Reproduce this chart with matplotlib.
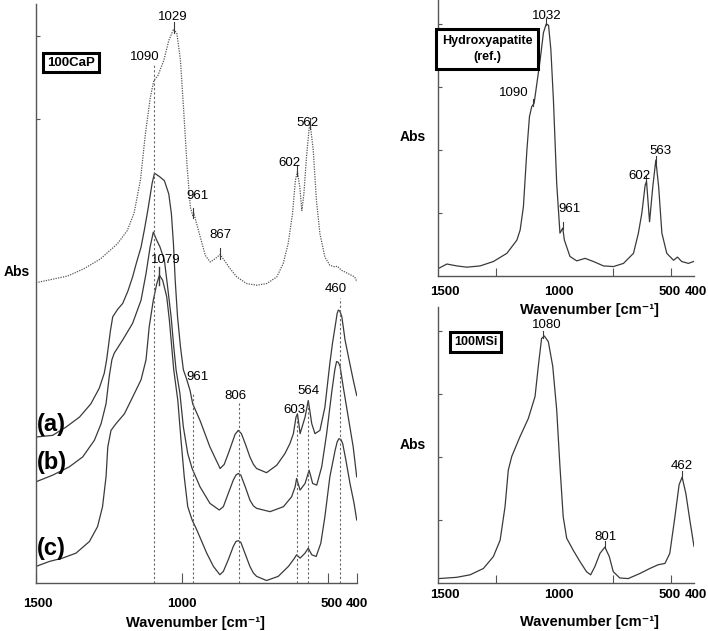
import numpy as np
import matplotlib.pyplot as plt
from matplotlib.transforms import ScaledTranslation

plt.rcParams['font.family'] = ['Liberation Sans', 'DejaVu Sans']

W, H = 708, 631

# --- left panel: 100CaP (dotted) and samples (a), (b), (c) ---
wn_cap = [1500, 1392, 1335, 1278, 1221, 1187, 1164, 1142, 1125, 1108, 1096, 1083, 1062, 1045,
          1028, 1017, 1005, 994, 982, 971, 963, 959, 954, 937, 920, 903, 886, 869, 857, 835,
          812, 778, 744, 709, 675, 653, 636, 621, 611, 604, 596, 589, 582, 573, 564, 560,
          550, 539, 527, 510, 493, 476, 468, 453, 431, 408, 400]
abs_cap = [3.03, 3.11, 3.20, 3.32, 3.50, 3.66, 3.87, 4.27, 4.83, 5.27, 5.47, 5.52, 5.71, 5.95,
           6.09, 6.03, 5.71, 5.11, 4.42, 3.94, 3.84, 3.87, 3.80, 3.58, 3.36, 3.28, 3.32, 3.37, 3.31, 3.20,
           3.10, 3.02, 3.00, 3.02, 3.10, 3.26, 3.50, 3.86, 4.27, 4.37, 4.18, 3.90, 4.10, 4.55, 4.89, 4.93,
           4.63, 4.02, 3.62, 3.34, 3.24, 3.22, 3.23, 3.18, 3.14, 3.10, 3.04]

wn_a = [1500, 1443, 1397, 1351, 1312, 1283, 1266, 1258, 1252, 1245, 1237, 1220, 1203, 1185,
        1169, 1155, 1140, 1128, 1117, 1102, 1094, 1077, 1060, 1045, 1036, 1029, 1023, 1015,
        1005, 995, 985, 972, 963, 938, 904, 869, 855, 840, 830, 818, 807, 796, 782, 767, 755,
        744, 710, 675, 647, 630, 618, 609, 604, 595, 578, 567, 555, 544, 527, 510, 493, 484,
        475, 468, 464, 459, 452, 446, 441, 426, 413, 401]
abs_a = [1.17, 1.19, 1.29, 1.41, 1.57, 1.76, 1.94, 2.10, 2.26, 2.45, 2.62, 2.71, 2.78, 2.93,
         3.10, 3.28, 3.46, 3.68, 3.90, 4.23, 4.35, 4.31, 4.26, 4.10, 3.86, 3.50, 3.06, 2.62,
         2.26, 1.98, 1.88, 1.73, 1.57, 1.37, 1.05, 0.79, 0.84, 0.98, 1.08, 1.20, 1.25, 1.21, 1.08, 0.93, 0.84,
         0.79, 0.74, 0.83, 0.97, 1.09, 1.21, 1.41, 1.45, 1.21, 1.41, 1.61, 1.33, 1.21, 1.25, 1.53, 2.06, 2.30,
         2.50, 2.66, 2.70, 2.69, 2.62, 2.47, 2.34, 2.08, 1.86, 1.67]

wn_b = [1500, 1443, 1386, 1340, 1300, 1277, 1260, 1249, 1240, 1232, 1203, 1169, 1140, 1123,
        1109, 1098, 1086, 1075, 1060, 1049, 1037, 1028, 1020, 1007, 995, 980, 965, 938, 904,
        872, 858, 840, 824, 815, 807, 798, 782, 767, 755, 744, 698, 652, 624, 612, 607, 595,
        578, 564, 552, 538, 521, 504, 487, 476, 470, 464, 458, 447, 430, 413, 401]
abs_b = [0.63, 0.71, 0.81, 0.93, 1.13, 1.33, 1.57, 1.90, 2.10, 2.18, 2.34, 2.54, 2.82, 3.14,
         3.46, 3.64, 3.54, 3.46, 3.30, 2.98, 2.62, 2.26, 1.98, 1.70, 1.29, 0.97, 0.79, 0.57, 0.37,
         0.29, 0.33, 0.50, 0.65, 0.71, 0.73, 0.71, 0.56, 0.41, 0.34, 0.31, 0.27, 0.33, 0.45, 0.57, 0.67, 0.53,
         0.61, 0.77, 0.61, 0.59, 0.81, 1.21, 1.70, 1.98, 2.08, 2.07, 2.02, 1.77, 1.41, 1.05, 0.69]

wn_c = [1500, 1454, 1409, 1363, 1317, 1289, 1272, 1260, 1254, 1243, 1226, 1197, 1169, 1140,
        1123, 1112, 1098, 1086, 1077, 1066, 1052, 1043, 1034, 1028, 1014, 1003, 992, 980, 965,
        949, 915, 892, 870, 858, 840, 824, 815, 807, 798, 782, 767, 755, 744, 710, 670, 635,
        616, 607, 595, 578, 567, 555, 540, 524, 510, 493, 475, 468, 462, 455, 449, 438, 424,
        410, 401]
abs_c = [-0.39, -0.33, -0.29, -0.23, -0.09, 0.09, 0.33, 0.69, 1.05, 1.25, 1.33, 1.45, 1.65, 1.86,
         2.10, 2.50, 2.82, 3.02, 3.12, 3.06, 2.86, 2.58, 2.22, 1.98, 1.61, 1.13, 0.69, 0.33, 0.17,
         0.05, -0.23, -0.39, -0.49, -0.45, -0.30, -0.15, -0.09, -0.08, -0.10, -0.25, -0.39, -0.47, -0.51,
         -0.56, -0.51, -0.39, -0.30, -0.25, -0.29, -0.23, -0.17, -0.25, -0.27, -0.11, 0.21, 0.69, 1.01,
         1.11, 1.15, 1.14, 1.09, 0.89, 0.61, 0.37, 0.17]

# --- right panels ---
wn_hap = [1498, 1462, 1419, 1376, 1319, 1262, 1204, 1161, 1147, 1133, 1118, 1107, 1097, 1087,
          1075, 1061, 1047, 1035, 1025, 1015, 1004, 990, 976, 964, 957, 933, 904, 868, 832, 789,
          746, 703, 660, 639, 624, 610, 604, 591, 577, 564, 552, 538, 517, 488, 471, 453, 424, 402]
abs_hap = [0.12, 0.19, 0.16, 0.14, 0.16, 0.23, 0.36, 0.57, 0.73, 1.10, 2.00, 2.53, 2.69, 2.74,
           3.06, 3.43, 3.86, 4.00, 3.98, 3.59, 2.79, 1.47, 0.68, 0.76, 0.57, 0.31, 0.24, 0.28, 0.23, 0.16,
           0.15, 0.20, 0.36, 0.68, 1.00, 1.44, 1.50, 0.86, 1.42, 1.84, 1.42, 0.68, 0.36, 0.25, 0.30, 0.23,
           0.20, 0.23]

wn_msi = [1498, 1420, 1362, 1305, 1262, 1233, 1212, 1198, 1183, 1148, 1112, 1083, 1069, 1055,
          1043, 1026, 1007, 990, 976, 962, 947, 919, 890, 862, 844, 826, 804, 783, 764, 747,
          719, 683, 633, 590, 554, 525, 504, 482, 464, 451, 435, 418, 400]
abs_msi = [0.07, 0.09, 0.13, 0.23, 0.42, 0.68, 1.21, 1.79, 2.01, 2.32, 2.61, 2.96, 3.44, 3.88,
           3.92, 3.83, 3.44, 2.75, 1.85, 1.05, 0.71, 0.52, 0.34, 0.18, 0.13, 0.26, 0.47, 0.57, 0.42, 0.18,
           0.08, 0.07, 0.15, 0.23, 0.29, 0.31, 0.47, 1.05, 1.56, 1.68, 1.42, 1.00, 0.58]

# peak labels: text, wavenumber of label, absorbance of label
left_labels = [('1029', 1031, 6.23), ('1090', 1126, 5.75), ('961', 948, 4.08), ('867', 869, 3.60),
               ('602', 630, 4.47), ('562', 571, 4.96), ('1079', 1055, 3.30), ('961', 948, 1.89),
               ('806', 818, 1.67), ('603', 616, 1.49), ('564', 568, 1.73), ('460', 472, 2.95)]
hap_labels = [('1032', 1032, 4.13), ('1090', 1173, 2.90), ('961', 933, 1.06),
              ('602', 636, 1.59), ('563', 546, 1.98)]
msi_labels = [('1080', 1032, 4.10), ('801', 782, 0.73), ('462', 452, 1.86)]

# dashed guide lines in the left panel: wavenumber, top of line
guide_wn = [1096, 963, 806, 607, 567, 459]
guide_top = [5.65, 1.70, 1.58, 1.41, 1.61, 2.84]

tick_vals = [1500, 1000, 500, 400]
tick_text = ['1500', '1000', '500', '400']

LINE = '#3a3a3a'
SPINE = '#555555'


def px(x, y):
    return x / W, 1 - y / H


def style(ax, pad):
    for s in ['top', 'right']:
        ax.spines[s].set_visible(False)
    for s in ['left', 'bottom']:
        ax.spines[s].set_color(SPINE)
        ax.spines[s].set_linewidth(1.0)
    ax.tick_params(axis='both', which='both', direction='in', colors=SPINE, labelcolor='black',
                   labelsize=9.5, pad=pad)
    ax.set_yticklabels([])


def fix_ticks(ax, shifts):
    labels = ax.get_xticklabels(which='both')
    for t in labels:
        t.set_fontweight('bold')
    for t in labels:
        dx = shifts.get(t.get_text(), 0)
        if dx:
            t.set_transform(t.get_transform() + ScaledTranslation(dx / 72, 0, fig.dpi_scale_trans))


def mark(ax, w, wn, ab, lo=0.05, hi=0.08, lw=0.8):
    y = np.interp(w, wn[::-1], ab[::-1])
    ax.plot([w, w], [y - lo, y + hi], color=LINE, lw=lw)


def peak_text(ax, labels):
    for t, w, a in labels:
        ax.text(w, a, t, ha='center', va='center', fontsize=9.5)


fig = plt.figure(figsize=(7.08, 6.31), dpi=100)

# left panel
ax = fig.add_axes([36 / W, 1 - 583 / H, 321 / W, 579 / H])
ax.set_xlim(1500, 400)
ax.set_ylim(-0.59, 6.39)
ax.plot(wn_cap, abs_cap, color='#555555', lw=0.9, ls=(0, (1, 1)))
for wn, ab in [(wn_a, abs_a), (wn_b, abs_b), (wn_c, abs_c)]:
    ax.plot(wn, ab, color=LINE, lw=0.9)
ax.vlines(guide_wn, -0.59, guide_top, colors='#666666', lw=0.8, linestyles=(0, (2, 2)))
for w in [1028, 961, 869, 604, 560]:
    mark(ax, w, wn_cap, abs_cap)
mark(ax, 1077, wn_c, abs_c, lo=0.12, hi=0.10, lw=1.0)
peak_text(ax, left_labels)
style(ax, 11)
ax.set_xticks(tick_vals)
ax.set_xticklabels(tick_text)
ax.tick_params(axis='x', length=7)
ax.set_yticks([5, 6])
ax.tick_params(axis='y', length=3)
fix_ticks(ax, {'1500': 1.5, '500': 2.5})
for lab, y in [('(a)', 425), ('(b)', 463), ('(c)', 548)]:
    fig.text(*px(37, y), lab, fontsize=17, fontweight='bold', va='center', ha='left')
fig.text(*px(71, 62.5), '100CaP', fontsize=9.5, fontweight='bold', ha='center', va='center',
         bbox=dict(boxstyle='square,pad=0.3', fc='white', ec='black', lw=2.2))
fig.text(*px(17, 272), 'Abs', fontsize=10, fontweight='bold', ha='center', va='center')
fig.text(*px(196, 623), 'Wavenumber [cm⁻¹]', fontsize=10.5, fontweight='bold', ha='center', va='center')

# right panels
panels = [
    (276, wn_hap, abs_hap, hap_labels, [1035, 1092, 964, 606, 565], 'Hydroxyapatite\n(ref.)',
     (487, 49), 137, 310, 7, 0.45),
    (583, wn_msi, abs_msi, msi_labels, [1047, 783, 452], '100MSi', (475.5, 342), 445, 622, 4, 0.3),
]
for bottom, wn, ab, labels, marks, title, tpos, abs_y, xl_y, pad, bpad in panels:
    ax = fig.add_axes([438 / W, 1 - bottom / H, 256 / W, 276 / H])
    ax.set_xlim(1500, 400)
    ax.set_ylim(0, 4.38)
    ax.plot(wn, ab, color=LINE, lw=0.9)
    for w in marks:
        mark(ax, w, wn, ab, lo=0.02, hi=0.10)
    peak_text(ax, labels)
    style(ax, pad)
    ax.xaxis.remove_overlapping_locs = False
    ax.set_xticks([1250, 750, 500])
    ax.set_xticklabels([])
    ax.set_xticks(tick_vals, minor=True)
    ax.set_xticklabels(tick_text, minor=True)
    ax.tick_params(axis='x', which='major', length=6)
    ax.tick_params(axis='x', which='minor', length=0)
    ax.set_yticks([1, 2, 3, 4])
    ax.tick_params(axis='y', length=3)
    fix_ticks(ax, {'1500': 5, '1000': 3, '500': -1, '400': 1.5})
    fig.text(*px(*tpos), title, fontsize=9, fontweight='bold', ha='center', va='center',
             linespacing=1.5, bbox=dict(boxstyle='square,pad=%s' % bpad, fc='white', ec='black', lw=2.2))
    fig.text(*px(413, abs_y), 'Abs', fontsize=10, fontweight='bold', ha='center', va='center')
    fig.text(*px(590, xl_y), 'Wavenumber [cm⁻¹]', fontsize=10.5, fontweight='bold',
             ha='center', va='center')

fig.savefig('out.png', dpi=100)
